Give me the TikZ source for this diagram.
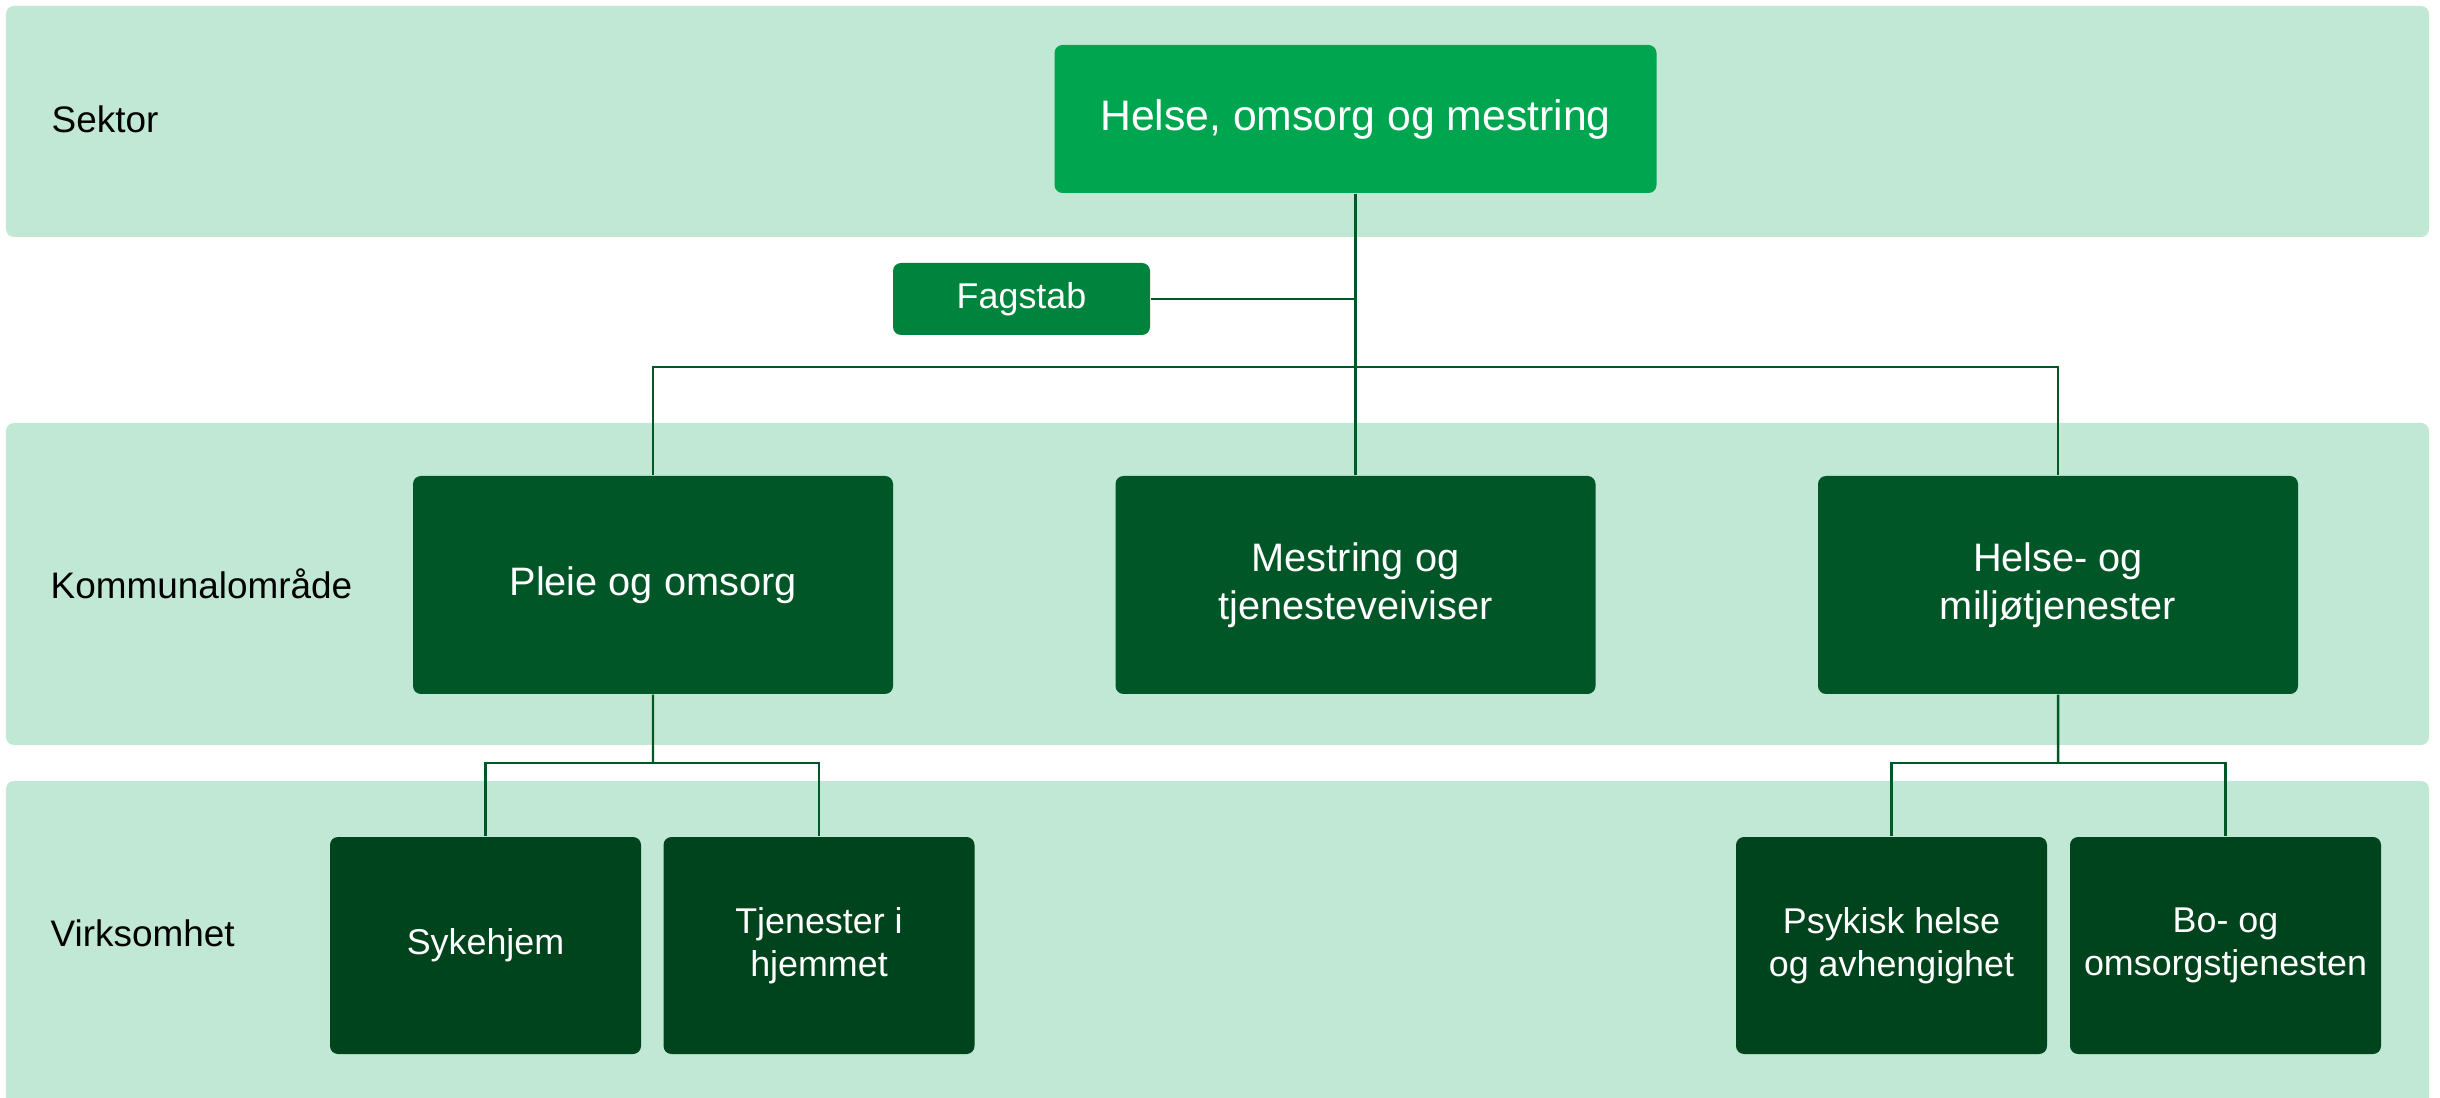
\documentclass[tikz,border=0pt]{standalone}
\usepackage{fontspec}
\setmainfont{Liberation Sans}
\usepackage{tikz}
\usetikzlibrary{shapes,arrows}

\definecolor{bandgreen}{RGB}{192,232,212}
\definecolor{sectorgreen}{RGB}{0,165,80}
\definecolor{stabgreen}{RGB}{0,132,61}
\definecolor{areagreen}{RGB}{0,86,38}
\definecolor{unitgreen}{RGB}{0,68,30}
\definecolor{linkgreen}{RGB}{0,87,40}

\tikzstyle{band} = [fill=bandgreen, rounded corners=0.08cm]
\tikzstyle{level} = [anchor=west, inner sep=0pt, font=\fontsize{10.5}{12.6}\selectfont]
\tikzstyle{sector} = [rectangle, fill=sectorgreen, text=white, text centered, rounded corners=0.08cm,
minimum width=6.02cm, minimum height=1.48cm, font=\fontsize{12.15}{14.6}\selectfont]
\tikzstyle{stab} = [rectangle, fill=stabgreen, text=white, text centered, rounded corners=0.08cm,
minimum width=2.57cm, minimum height=0.72cm, font=\fontsize{10.2}{12.3}\selectfont]
\tikzstyle{area} = [rectangle, fill=areagreen, text=white, align=center, rounded corners=0.08cm,
minimum width=4.8cm, minimum height=2.18cm, font=\fontsize{11.3}{13.6}\selectfont]
\tikzstyle{unit} = [rectangle, fill=unitgreen, text=white, align=center, rounded corners=0.08cm,
minimum width=3.11cm, minimum height=2.17cm, font=\fontsize{10.2}{12.3}\selectfont]
\tikzstyle{line} = [draw, color=linkgreen, line width=0.7pt]

\begin{document}
\begin{tikzpicture}[node distance = 7.025cm, auto]
	\useasboundingbox (0,0) rectangle (24.4,-10.98);
	% background bands
	\path [band] (0.06,-0.06) rectangle (24.29,-2.37);
	\path [band] (0.06,-4.23) rectangle (24.29,-7.45);
	\path [band] (0.06,-7.81) rectangle (24.29,-11.1);
	\node [level] (sektor) at (0.51,-1.19) {Sektor};
	\node [level] (omraade) at (0.50,-5.84) {Kommunalområde};
	\node [level] (virksomhet) at (0.50,-9.33) {Virksomhet};
	
	\node [sector] (hom) at (13.555,-1.19) {Helse, omsorg og mestring};
	\node [stab] (fagstab) at (10.215,-2.99) {Fagstab};
	\node [area] (mestring) at (13.555,-5.85) {Mestring og\\tjenesteveiviser};
	\node [area, left of=mestring] (pleie) {Pleie og omsorg};
	\node [area, right of=mestring] (miljo) {Helse- og\\miljøtjenester};
	\node [unit] (sykehjem) at (4.855,-9.455) {Sykehjem};
	\node [unit, right of=sykehjem, node distance=3.335cm] (hjemmet) {Tjenester i\\hjemmet};
	\node [unit] (psykisk) at (18.915,-9.455) {Psykisk helse\\og avhengighet};
	\node [unit, right of=psykisk, node distance=3.34cm] (boomsorg) {Bo- og\\omsorgstjenesten};
	
	\coordinate (bus) at (13.555,-3.67);
	\coordinate (pbus) at (6.53,-7.63);
	\coordinate (mbus) at (20.58,-7.63);
	\path [line] (hom.south) -- (mestring.north);
	\path [line] (fagstab.east) -- (fagstab.east -| hom.south);
	\path [line] (pleie.north) |- (bus) -| (miljo.north);
	\path [line] (pleie.south) -- (pbus);
	\path [line] (sykehjem.north) |- (pbus) -| (hjemmet.north);
	\path [line] (miljo.south) -- (mbus);
	\path [line] (psykisk.north) |- (mbus) -| (boomsorg.north);
	
\end{tikzpicture}
\end{document}
